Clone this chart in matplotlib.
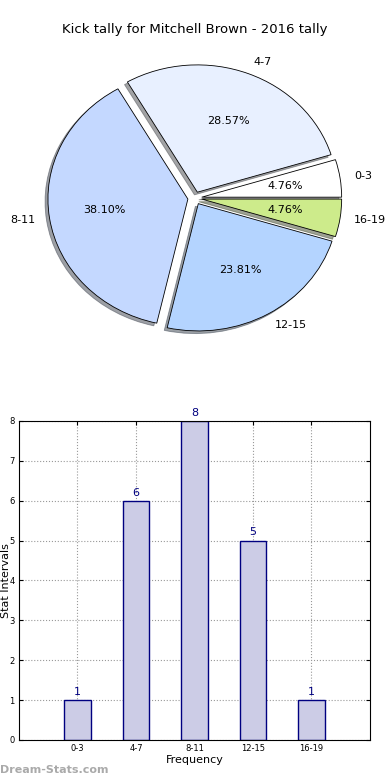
import matplotlib
matplotlib.use("Agg")
import matplotlib.pyplot as plt

# data
intervals = ["0-3", "4-7", "8-11", "12-15", "16-19"]
counts = [1, 6, 8, 5, 1]
pie_colors = ["#ffffff", "#e8f0ff", "#c4d8ff", "#b4d4ff", "#cdeb8b"]
title = "Kick tally for Mitchell Brown - 2016 tally"

fig = plt.figure(figsize=(3.9, 7.8), dpi=100)
fig.text(0.5, 1 - 30 / 780, title, ha="center", va="center", fontsize=9.5)

# pie (stretched like the old non-equal-aspect pies)
ax1 = fig.add_axes([0.051, 0.542, 0.897, 0.408])
wedges, texts, autotexts = ax1.pie(
    counts, labels=intervals, colors=pie_colors, explode=[0.05] * len(counts),
    autopct="%.2f%%", shadow={"ox": -0.015, "oy": -0.015}, startangle=0,
    labeldistance=1.1,
    wedgeprops={"edgecolor": "black", "linewidth": 0.6},
    textprops={"fontsize": 8},
)
ax1.set_aspect("auto")
ax1.set_xlim(-1.25, 1.25)
ax1.set_ylim(-1.25, 1.25)

# bars
ax2 = fig.add_axes([0.0487, 0.0513, 0.9, 0.409])
x = list(range(len(intervals)))
ax2.bar(x, counts, width=0.45, color="#cccce6", edgecolor="#000080", linewidth=1, zorder=2)
for xi, c in zip(x, counts):
    ax2.text(xi, c + 0.08, str(c), ha="center", va="bottom", fontsize=8, color="#000080")
ax2.set_xlim(-1, 5)
ax2.set_ylim(0, 8)
ax2.set_xticks(x)
ax2.set_xticklabels(intervals)
ax2.set_yticks(range(0, 9))
ax2.tick_params(direction="in", top=True, right=True, labelsize=6, length=3, pad=3)
ax2.grid(True, linestyle=":", color="#999999", linewidth=0.8, zorder=0)
ax2.set_axisbelow(True)
ax2.set_xlabel("Frequency", fontsize=8, labelpad=1)
ax2.set_ylabel("Stat Intervals", fontsize=8)
ax2.yaxis.set_label_coords(-8 / 351, 0.5)

fig.text(0.0, 5 / 780, "Dream-Stats.com", fontsize=8, color="#aaaaaa",
         fontweight="bold", ha="left", va="bottom")

fig.savefig("out.png", dpi=100)
